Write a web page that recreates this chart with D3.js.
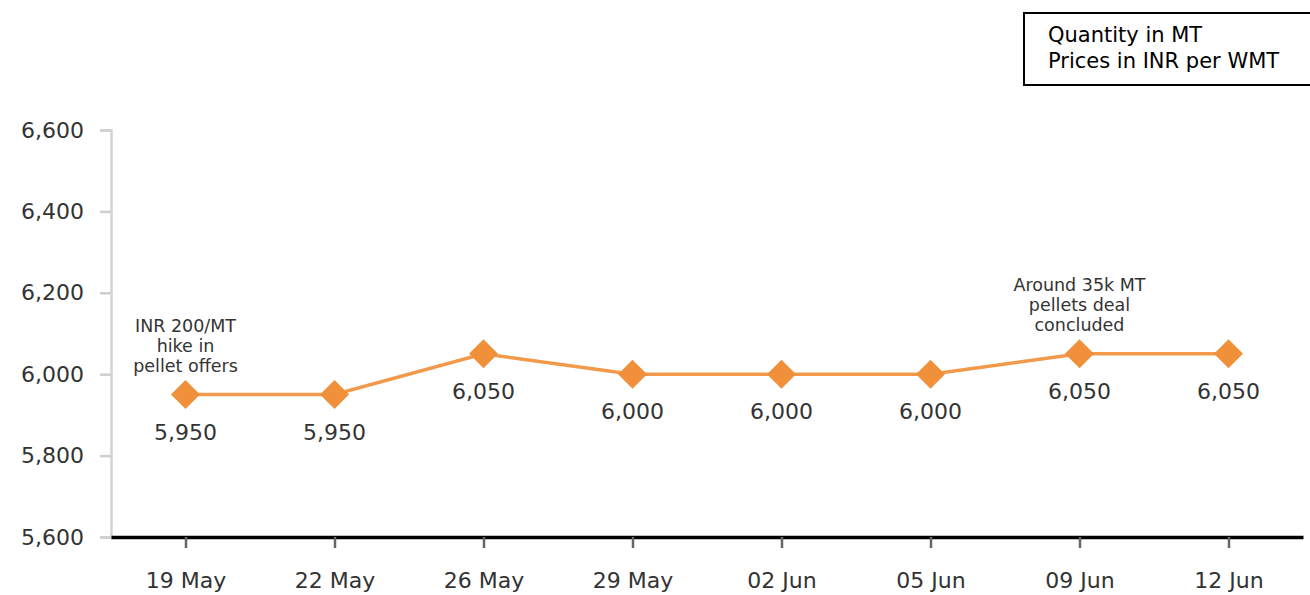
<!DOCTYPE html>
<html>
<head>
<meta charset="utf-8">
<script src="https://cdn.jsdelivr.net/npm/d3@7"></script>
<style>
  body { margin: 0; background: #fff; }
  text { font-family: "DejaVu Sans", Verdana, sans-serif; }
</style>
</head>
<body>
<div id="chart"></div>
<script>
// Datos del gráfico
const dates = ["19 May", "22 May", "26 May", "29 May", "02 Jun", "05 Jun", "09 Jun", "12 Jun"];
const prices = [5950, 5950, 6050, 6000, 6000, 6000, 6050, 6050];
const yTicks = [5600, 5800, 6000, 6200, 6400, 6600];
const notes = [
    { date: "19 May", lines: ["INR 200/MT", "hike in", "pellet offers"] },
    { date: "09 Jun", lines: ["Around 35k MT", "pellets deal", "concluded"] }
];
const legendLines = ["Quantity in MT", "Prices in INR per WMT"];

const WIDTH = 1310;
const HEIGHT = 595;
const margin = { top: 130, right: 7, bottom: 58, left: 111 };

const svg = d3.select("#chart").append("svg")
    .attr("width", WIDTH)
    .attr("height", HEIGHT);

// Escalas
const x = d3.scalePoint()
    .domain(dates)
    .range([margin.left, WIDTH - margin.right])
    .padding(0.5);

const y = d3.scaleLinear()
    .domain([5600, 6600])
    .range([HEIGHT - margin.bottom, margin.top]);

// Eje Y (gris claro)
const yAxis = svg.append("g")
    .attr("transform", `translate(${margin.left},0)`)
    .call(d3.axisLeft(y).tickValues(yTicks).tickSize(11).tickPadding(16)
        .tickFormat(d3.format(",")));
yAxis.select(".domain").attr("stroke", "#d4d4d4").attr("stroke-width", 2.5);
yAxis.selectAll(".tick line").attr("stroke", "#cfcfcf").attr("stroke-width", 2.5);
yAxis.selectAll(".tick text").attr("fill", "#333").style("font-size", "22px");

// Eje X (negro)
const xAxis = svg.append("g")
    .attr("transform", `translate(0,${y(5600)})`)
    .call(d3.axisBottom(x).tickSize(11).tickPadding(24).tickSizeOuter(0));
xAxis.select(".domain").attr("stroke", "#000").attr("stroke-width", 3.5);
xAxis.selectAll(".tick line").attr("stroke", "#666").attr("stroke-width", 2.5);
xAxis.selectAll(".tick text").attr("fill", "#333").style("font-size", "22px");

// Línea de precios
const line = d3.line()
    .x((d, i) => x(dates[i]))
    .y(d => y(d));

svg.append("path")
    .datum(prices)
    .attr("fill", "none")
    .attr("stroke", "#f19a4c")
    .attr("stroke-width", 3.5)
    .attr("d", line);

// Rombos
const diamond = d3.symbol().type(d3.symbolSquare).size(420);
svg.append("g")
    .selectAll("path")
    .data(prices)
    .enter().append("path")
    .attr("d", diamond)
    .attr("transform", (d, i) => `translate(${x(dates[i])},${y(d)}) rotate(45)`)
    .attr("fill", "#f0903b");

// Etiquetas de valor
svg.append("g")
    .selectAll("text")
    .data(prices)
    .enter().append("text")
    .attr("x", (d, i) => x(dates[i]))
    .attr("y", d => y(d) + 45)
    .attr("text-anchor", "middle")
    .attr("fill", "#333")
    .style("font-size", "22px")
    .text(d => d3.format(",")(d));

// Anotaciones
notes.forEach(n => {
    const i = dates.indexOf(n.date);
    const py = y(prices[i]);
    const g = svg.append("g");
    n.lines.forEach((t, k) => {
        g.append("text")
            .attr("x", x(n.date))
            .attr("y", py - 63 + k * 20)
            .attr("text-anchor", "middle")
            .attr("fill", "#333")
            .style("font-size", "17.5px")
            .text(t);
    });
});

// Caja de leyenda
const legend = svg.append("g");
legend.append("rect")
    .attr("x", 1024)
    .attr("y", 13)
    .attr("width", 300)
    .attr("height", 72)
    .attr("fill", "#fff")
    .attr("stroke", "#000")
    .attr("stroke-width", 2);
legend.selectAll("text")
    .data(legendLines)
    .enter().append("text")
    .attr("x", 1048)
    .attr("y", (d, i) => 42 + i * 26)
    .attr("fill", "#000")
    .style("font-size", "21px")
    .text(d => d);
</script>
</body>
</html>
